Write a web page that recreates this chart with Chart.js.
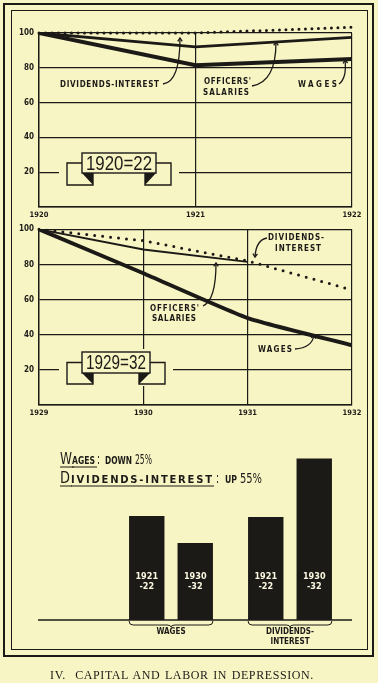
<!DOCTYPE html>
<html>
<head>
<meta charset="utf-8">
<script src="https://cdn.jsdelivr.net/npm/chart.js@4.4.1/dist/chart.umd.min.js"></script>
<style>
  html, body { margin: 0; padding: 0; background: #f8f5c5; width: 378px; height: 683px; overflow: hidden; }
  canvas { position: absolute; left: 0; }
  .frame { position: absolute; border: 2px solid #1c1a17; box-sizing: border-box; }
  #caption { position: absolute; left: 0; width: 364px; top: 668px; text-align: center;
    font: 12px "Liberation Serif", serif; color: #1c1a17; letter-spacing: 0.6px; word-spacing: 1px; }
</style>
</head>
<body>
<div class="frame" style="left:3px;top:3px;width:371px;height:654px"></div>
<div class="frame" style="left:11px;top:10px;width:357px;height:640px;border-width:1.5px"></div>
<canvas id="top" width="378" height="225" style="top:0"></canvas>
<canvas id="mid" width="378" height="210" style="top:215px"></canvas>
<canvas id="bars" width="378" height="230" style="top:430px"></canvas>
<div id="caption">IV.&nbsp; CAPITAL AND LABOR IN DEPRESSION.</div>
<script>
// 1920-22 index, 1920 = 100
const years1 = [1920, 1921, 1922];
const wages1 = [100, 81.5, 85];
const officers1 = [100, 92, 97.5];
const dividends1 = [100, 100, 103.3];

// 1929-32 index, 1929 = 100
const years2 = [1929, 1930, 1931, 1932];
const wages2 = [100, 75, 49.5, 34];
const officers2 = [100, 88.5, 81.5, null];
const dividends2 = [100, 93.5, 82, 65.5];

// bar comparison
const barGroups = ['WAGES', 'DIVIDENDS-\nINTEREST'];
const barPeriods = ['1921\n-22', '1930\n-32'];
const bars1921 = [100, 99];
const bars1930 = [74, 155];

const yTicks = [20, 40, 60, 80, 100];

const INK = '#1c1a17';
const BG = '#f8f5c5';
const HAND = '"DejaVu Sans Condensed", "Liberation Sans Narrow", "DejaVu Sans", sans-serif';

Chart.defaults.font.family = HAND;
Chart.defaults.color = INK;
Chart.defaults.animation = false;

const pts = (xs, ys) => xs.map((x, i) => ({ x: x, y: ys[i] }));

// draw text squeezed / spread into a given width
function fitText(ctx, text, x, y, w) {
  ctx.save();
  const m = ctx.measureText(text).width;
  if (m < w && text.length > 1) {
    ctx.letterSpacing = ((w - m) / (text.length - 1)).toFixed(2) + 'px';
    ctx.fillText(text, x, y);
  } else {
    ctx.fillText(text, x, y, w);
  }
  ctx.restore();
}

function arrow(ctx, a, c, b) {
  ctx.save();
  ctx.strokeStyle = INK;
  ctx.lineWidth = 1.3;
  ctx.beginPath();
  ctx.moveTo(a[0], a[1]);
  ctx.quadraticCurveTo(c[0], c[1], b[0], b[1]);
  ctx.stroke();
  const ang = Math.atan2(b[1] - c[1], b[0] - c[0]);
  ctx.beginPath();
  ctx.moveTo(b[0] - 4 * Math.cos(ang - 0.6), b[1] - 4 * Math.sin(ang - 0.6));
  ctx.lineTo(b[0], b[1]);
  ctx.lineTo(b[0] - 4 * Math.cos(ang + 0.6), b[1] - 4 * Math.sin(ang + 0.6));
  ctx.stroke();
  ctx.restore();
}

function label(ctx, lines) {
  ctx.save();
  ctx.fillStyle = INK;
  ctx.font = 'bold 8px ' + HAND;
  ctx.textBaseline = 'middle';
  lines.forEach(l => fitText(ctx, l[0], l[1], l[2], l[3]));
  ctx.restore();
}

function banner(ctx, x0, y0, w, h, text, tail, drop, fold) {
  ctx.save();
  ctx.fillStyle = BG;
  ctx.fillRect(x0 - tail - 8, y0 - 3, w + 2 * tail + 16, h + drop + 5);
  ctx.strokeStyle = INK;
  ctx.lineWidth = 1.4;
  const yb = y0 + h, ym = y0 + h / 2, yd = y0 + h + drop, x1 = x0 + w;
  ctx.beginPath();
  ctx.moveTo(x0, ym); ctx.lineTo(x0 - tail, ym); ctx.lineTo(x0 - tail, yd);
  ctx.lineTo(x0 + fold, yd); ctx.lineTo(x0 + fold, yb);
  ctx.moveTo(x1, ym); ctx.lineTo(x1 + tail, ym); ctx.lineTo(x1 + tail, yd);
  ctx.lineTo(x1 - fold, yd); ctx.lineTo(x1 - fold, yb);
  ctx.stroke();
  ctx.fillStyle = INK;
  ctx.beginPath();
  ctx.moveTo(x0, yb); ctx.lineTo(x0 + fold, yb); ctx.lineTo(x0 + fold, yd); ctx.closePath();
  ctx.moveTo(x1, yb); ctx.lineTo(x1 - fold, yb); ctx.lineTo(x1 - fold, yd); ctx.closePath();
  ctx.fill();
  ctx.fillStyle = BG;
  ctx.fillRect(x0, y0, w, h);
  ctx.strokeRect(x0, y0, w, h);
  ctx.fillStyle = INK;
  ctx.font = '20px "Liberation Sans", sans-serif';
  ctx.textAlign = 'center';
  ctx.textBaseline = 'middle';
  ctx.fillText(text, x0 + w / 2, y0 + h / 2 + 1, w - 8);
  ctx.restore();
}

function lineOptions(xmin, xmax, padTop, padBottom) {
  return {
    responsive: false,
    layout: { padding: { top: padTop, bottom: padBottom, left: 0, right: 26 } },
    plugins: { legend: { display: false }, tooltip: { enabled: false } },
    elements: { point: { radius: 0 } },
    scales: {
      x: {
        type: 'linear', min: xmin, max: xmax,
        afterFit: s => { s.height = 14; },
        ticks: { stepSize: 1, padding: 4, maxRotation: 0, font: { size: 7.5, weight: 'bold' }, callback: v => String(v) },
        grid: { color: INK, lineWidth: 1.2, drawTicks: false },
        border: { color: INK, width: 1.4 }
      },
      y: {
        min: 0, max: 100,
        afterFit: s => { s.width = 39; },
        afterBuildTicks: s => { s.ticks = [0].concat(yTicks).map(v => ({ value: v })); },
        ticks: { padding: 5, font: { size: 8, weight: 'bold' }, callback: v => (v === 0 ? '' : String(v)) },
        grid: { color: INK, lineWidth: 1.2, drawTicks: false },
        border: { color: INK, width: 1.4 }
      }
    }
  };
}

new Chart(document.getElementById('top'), {
  type: 'line',
  data: {
    datasets: [
      { label: 'Dividends-Interest', data: pts(years1, dividends1), borderColor: INK, borderWidth: 3,
        borderDash: [0, 6.5], borderCapStyle: 'round', clip: false },
      { label: "Officers' Salaries", data: pts(years1, officers1), borderColor: INK, borderWidth: 2.8 },
      { label: 'Wages', data: pts(years1, wages1), borderColor: INK, borderWidth: 4 }
    ]
  },
  options: lineOptions(1920, 1922, 33, 4),
  plugins: [{
    id: 'notesTop',
    afterDraw(chart) {
      const ctx = chart.ctx;
      label(ctx, [['DIVIDENDS-INTEREST', 60, 85, 99], ["OFFICERS'", 204, 82, 47], ['SALARIES', 203, 93, 46], ['WAGES', 298, 85, 39]]);
      arrow(ctx, [163, 84], [180, 82], [180, 38]);
      arrow(ctx, [252, 86], [276, 82], [276, 42]);
      arrow(ctx, [339, 84], [347, 78], [345, 60]);
      banner(ctx, 82, 153, 74, 20, '1920=22', 15, 12, 11);
    }
  }]
});

new Chart(document.getElementById('mid'), {
  type: 'line',
  data: {
    datasets: [
      { label: 'Dividends-Interest', data: pts(years2, dividends2), borderColor: INK, borderWidth: 3,
        borderDash: [0, 8], borderCapStyle: 'round', clip: false },
      { label: "Officers' Salaries", data: pts(years2, officers2), borderColor: INK, borderWidth: 1.8 },
      { label: 'Wages', data: pts(years2, wages2), borderColor: INK, borderWidth: 4, tension: 0.15 }
    ]
  },
  options: lineOptions(1929, 1932, 14.3, 6),
  plugins: [{
    id: 'notesMid',
    afterDraw(chart) {
      const ctx = chart.ctx;
      ctx.save();
      ctx.translate(0, -215);
      label(ctx, [['DIVIDENDS-', 268, 238, 56], ['INTEREST', 275, 249, 46], ["OFFICERS'", 150, 309, 49],
        ['SALARIES', 152, 319, 44], ['WAGES', 258, 350, 34]]);
      arrow(ctx, [267, 238], [256, 240], [255, 257]);
      arrow(ctx, [203, 306], [216, 300], [216, 263]);
      arrow(ctx, [295, 349], [312, 348], [314, 335]);
      banner(ctx, 82, 352, 68, 21, '1929=32', 15, 11, 11);
      ctx.restore();
    }
  }]
});

// headline pieces: [text, font, left x, width, underline]
function headline(ctx, y, parts) {
  parts.forEach(p => {
    ctx.font = p[1];
    fitText(ctx, p[0], p[2], y, p[3]);
    if (p[4]) { ctx.fillRect(p[2], y + 2.5, p[3] + 2, 1); }
  });
}

new Chart(document.getElementById('bars'), {
  type: 'bar',
  data: {
    labels: barGroups,
    datasets: [
      { label: barPeriods[0], data: bars1921, backgroundColor: INK },
      { label: barPeriods[1], data: bars1930, backgroundColor: INK }
    ]
  },
  options: {
    responsive: false,
    layout: { padding: { top: 13, bottom: 40, left: 111.5, right: 28.5 } },
    categoryPercentage: 0.815,
    barPercentage: 0.73,
    plugins: { legend: { display: false }, tooltip: { enabled: false } },
    scales: {
      x: { display: false },
      y: { display: false, min: 0, max: 170 }
    }
  },
  plugins: [{
    id: 'notesBars',
    afterDraw(chart) {
      const ctx = chart.ctx;
      const base = chart.scales.y.getPixelForValue(0);
      ctx.save();
      ctx.strokeStyle = INK;
      ctx.fillStyle = INK;
      ctx.lineWidth = 1.5;
      ctx.beginPath();
      ctx.moveTo(38, base); ctx.lineTo(352, base);
      ctx.stroke();

      // period labels inside bars
      ctx.fillStyle = '#fbf8e0';
      ctx.font = 'bold 9px ' + HAND;
      ctx.textAlign = 'center';
      ctx.textBaseline = 'middle';
      chart.data.datasets.forEach((ds, di) => {
        chart.getDatasetMeta(di).data.forEach(el => {
          const l = ds.label.split('\n');
          ctx.fillText(l[0], el.x, base - 43);
          ctx.fillText(l[1], el.x, base - 33);
        });
      });

      // braces and group names
      ctx.fillStyle = INK;
      ctx.lineWidth = 1;
      ctx.font = 'bold 8px ' + HAND;
      chart.data.labels.forEach((g, i) => {
        const a = chart.getDatasetMeta(0).data[i], b = chart.getDatasetMeta(1).data[i];
        const l = a.x - a.width / 2, r = b.x + b.width / 2, m = (l + r) / 2;
        const y = base + 5;
        ctx.beginPath();
        ctx.moveTo(l, base + 1);
        ctx.quadraticCurveTo(l, y, l + 4, y);
        ctx.lineTo(m - 4, y);
        ctx.quadraticCurveTo(m, y, m, y + 2);
        ctx.quadraticCurveTo(m, y, m + 4, y);
        ctx.lineTo(r - 4, y);
        ctx.quadraticCurveTo(r, y, r, base + 1);
        ctx.stroke();
        g.split('\n').forEach((t, k) => ctx.fillText(t, m, base + 12 + k * 9.5));
      });

      // headline
      ctx.textAlign = 'left';
      ctx.textBaseline = 'alphabetic';
      const big = '15px ' + HAND, sc = 'bold 10px "DejaVu Sans", sans-serif', num = '14px ' + HAND;
      headline(ctx, 34, [['W', big, 60, 12, true], ['AGES', sc, 72, 23, true], [':', big, 97, 3],
        ['DOWN', sc, 105, 27], ['25%', num, 135, 17]]);
      headline(ctx, 53, [['D', big, 60, 10, true], ['IVIDENDS-INTEREST', sc, 71, 141, true], [':', big, 216, 3],
        ['UP', sc, 225, 12], ['55%', num, 240, 22]]);
      ctx.restore();
    }
  }]
});
</script>
</body>
</html>
